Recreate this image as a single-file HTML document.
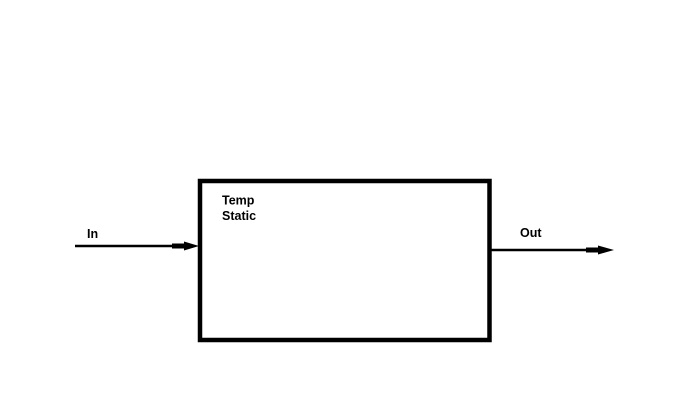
<!DOCTYPE html>
<html><head><style>
html,body{margin:0;padding:0;background:#fff;width:700px;height:415px;overflow:hidden}
</style></head><body>
<svg width="700" height="415" xmlns="http://www.w3.org/2000/svg">
<rect x="200" y="181" width="289.5" height="159" fill="none" stroke="#000" stroke-width="4.5"/>
<line x1="75" y1="246" x2="175" y2="246" stroke="#000" stroke-width="2.5"/>
<rect x="172" y="243.5" width="14" height="5" fill="#000"/>
<polygon points="184,241.5 199,246 184,250.5" fill="#000"/>
<line x1="491" y1="250" x2="590" y2="250" stroke="#000" stroke-width="2.5"/>
<rect x="586" y="247.5" width="14" height="5" fill="#000"/>
<polygon points="598,245.5 614,250 598,254.5" fill="#000"/>
<g font-family="Liberation Sans, Arial, sans-serif" font-weight="bold" font-size="12.5" fill="#000">
<text x="222" y="204.5">Temp</text>
<text x="222" y="220">Static</text>
<text x="87" y="238">In</text>
<text x="520" y="237">Out</text>
</g>
</svg>
</body></html>
